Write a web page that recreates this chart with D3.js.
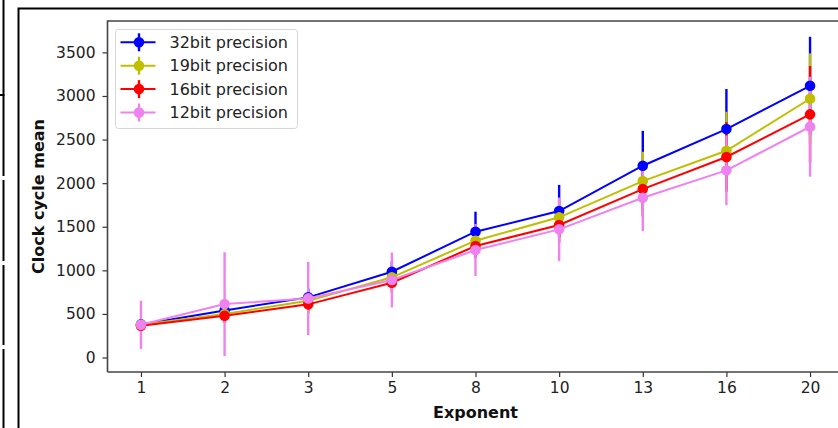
<!DOCTYPE html>
<html>
<head>
<meta charset="utf-8">
<script src="https://cdn.jsdelivr.net/npm/d3@7"></script>
<style>
  body { margin: 0; background: #fff; }
  svg { display: block; font-family: "DejaVu Sans", sans-serif; }
</style>
</head>
<body>
<svg id="chart" width="838" height="428"></svg>
<script>
// x categories (exponent values)
const exponents = ["1", "2", "3", "5", "8", "10", "13", "16", "20"];
const yTicks = [0, 500, 1000, 1500, 2000, 2500, 3000, 3500];

// clock cycle means and std errors per precision
const mean32 = [380, 540, 690, 984, 1443, 1680, 2200, 2620, 3117];
const err32 = [60, 80, 100, 120, 230, 300, 400, 460, 562];
const mean19 = [375, 500, 650, 920, 1340, 1608, 2024, 2372, 2968];
const err19 = [50, 90, 110, 130, 150, 200, 336, 447, 521];
const mean16 = [365, 480, 610, 858, 1279, 1520, 1932, 2300, 2789];
const err16 = [50, 80, 100, 110, 140, 200, 313, 400, 554];
const mean12 = [375, 613, 678, 890, 1233, 1470, 1833, 2147, 2647];
const err12 = [277, 595, 420, 315, 298, 365, 383, 400, 573];

const seriesNames = ["32bit precision", "19bit precision", "16bit precision", "12bit precision"];
const seriesColors = ["#0000ff", "#bfbf00", "#ff0000", "#ee82ee"];

const series = [
  { name: seriesNames[0], color: seriesColors[0], mean: mean32, err: err32 },
  { name: seriesNames[1], color: seriesColors[1], mean: mean19, err: err19 },
  { name: seriesNames[2], color: seriesColors[2], mean: mean16, err: err16 },
  { name: seriesNames[3], color: seriesColors[3], mean: mean12, err: err12 }
];

const svg = d3.select("#chart");
const plot = { left: 107.5, right: 843.5, top: 21, bottom: 372 };

// outer frame (the screenshot crop edges)
svg.append("path")
  .attr("d", "M18.5,428 L18.5,8.5 L838,8.5")
  .attr("fill", "none").attr("stroke", "#000").attr("stroke-width", 2);
const stripGaps = [[0, 176], [180, 261], [265, 345], [349, 428]];
stripGaps.forEach(g => {
  svg.append("line").attr("x1", 3.5).attr("x2", 3.5).attr("y1", g[0]).attr("y2", g[1])
    .attr("stroke", "#000").attr("stroke-width", 2);
});
svg.append("line").attr("x1", 0).attr("x2", 4.5).attr("y1", 95).attr("y2", 95)
  .attr("stroke", "#000").attr("stroke-width", 2);

const x = d3.scaleLinear()
  .domain([-0.4, exponents.length - 1 + 0.4])
  .range([plot.left, plot.right]);
const y = d3.scaleLinear()
  .domain([-166, 3860])
  .range([plot.bottom, plot.top]);

const g = svg.append("g");

// error bars first (matplotlib draws them under all data lines)
series.forEach(s => {
  g.selectAll(null)
    .data(s.mean.map((m, i) => ({ i: i, m: m, e: s.err[i] })))
    .enter()
    .append("line")
    .attr("x1", d => x(d.i)).attr("x2", d => x(d.i))
    .attr("y1", d => y(d.m - d.e)).attr("y2", d => y(d.m + d.e))
    .attr("stroke", s.color)
    .attr("stroke-width", 2.4);
});

const line = d3.line()
  .x((d, i) => x(i))
  .y(d => y(d));

series.forEach(s => {
  g.append("path")
    .datum(s.mean)
    .attr("d", line)
    .attr("fill", "none")
    .attr("stroke", s.color)
    .attr("stroke-width", 2);
  g.selectAll(null)
    .data(s.mean)
    .enter()
    .append("circle")
    .attr("cx", (d, i) => x(i))
    .attr("cy", d => y(d))
    .attr("r", 5.3)
    .attr("fill", s.color);
});

// axes
const xAxis = svg.append("g")
  .attr("transform", `translate(0,${plot.bottom})`)
  .call(d3.axisBottom(x)
    .tickValues(d3.range(exponents.length))
    .tickFormat(i => exponents[i])
    .tickSize(5)
    .tickPadding(5));
const yAxis = svg.append("g")
  .attr("transform", `translate(${plot.left},0)`)
  .call(d3.axisLeft(y)
    .tickValues(yTicks)
    .tickFormat(d3.format("d"))
    .tickSize(5)
    .tickPadding(7));

[xAxis, yAxis].forEach(a => {
  a.select(".domain").remove();
  a.selectAll(".tick line").attr("stroke", "#333").attr("stroke-width", 1.2);
  a.selectAll(".tick text")
    .attr("font-size", 15.5)
    .attr("font-family", "DejaVu Sans")
    .attr("fill", "#222");
});

// spines (right one falls outside the crop)
svg.append("path")
  .attr("d", `M${plot.left},${plot.bottom} L${plot.left},${plot.top} L838,${plot.top}`)
  .attr("fill", "none").attr("stroke", "#444").attr("stroke-width", 1.6);
svg.append("line")
  .attr("x1", plot.left).attr("x2", 838)
  .attr("y1", plot.bottom).attr("y2", plot.bottom)
  .attr("stroke", "#444").attr("stroke-width", 1.6);

svg.append("text")
  .attr("x", 475.5).attr("y", 418)
  .attr("text-anchor", "middle")
  .attr("font-size", 16).attr("font-weight", "bold")
  .attr("fill", "#111")
  .text("Exponent");
svg.append("text")
  .attr("transform", `translate(43.5,${(plot.top + plot.bottom) / 2}) rotate(-90)`)
  .attr("text-anchor", "middle")
  .attr("font-size", 16).attr("font-weight", "bold")
  .attr("fill", "#111")
  .text("Clock cycle mean");

// legend
const legend = svg.append("g").attr("transform", "translate(115.5,29.5)");
legend.append("rect")
  .attr("width", 182).attr("height", 99)
  .attr("rx", 3)
  .attr("fill", "#fff").attr("fill-opacity", 0.85)
  .attr("stroke", "#d6d6d6");
series.forEach((s, i) => {
  const row = legend.append("g").attr("transform", `translate(0,${12.8 + i * 23.4})`);
  row.append("line").attr("x1", 5).attr("x2", 40).attr("y1", 0).attr("y2", 0)
    .attr("stroke", s.color).attr("stroke-width", 2);
  row.append("line").attr("x1", 23.5).attr("x2", 23.5).attr("y1", -9).attr("y2", 9)
    .attr("stroke", s.color).attr("stroke-width", 2.4);
  row.append("circle").attr("cx", 23.5).attr("cy", 0).attr("r", 5.3).attr("fill", s.color);
  row.append("text").attr("x", 54).attr("y", 0).attr("dy", "0.36em")
    .attr("font-size", 16).attr("fill", "#222")
    .text(s.name);
});
</script>
</body>
</html>
